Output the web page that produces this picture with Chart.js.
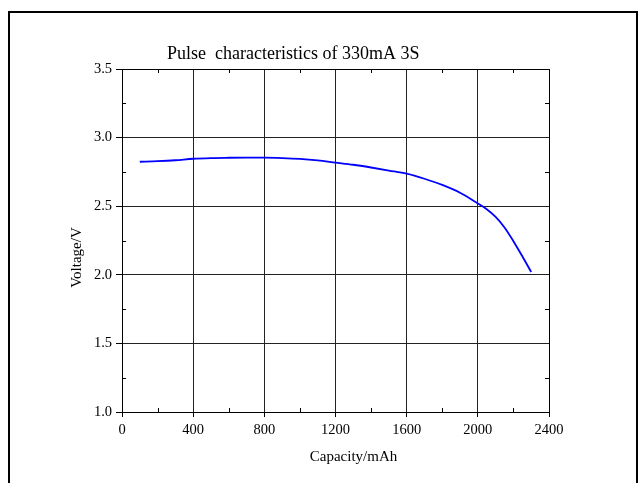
<!DOCTYPE html>
<html>
<head>
<meta charset="utf-8">
<script src="https://cdn.jsdelivr.net/npm/chart.js@4/dist/chart.umd.min.js"></script>
<style>
  html, body { margin: 0; padding: 0; background: #fff; }
  #wrap { width: 641px; height: 483px; }
</style>
</head>
<body>
<div id="wrap"><canvas id="myChart" width="641" height="483"></canvas></div>
<script>
// values
const capacity = [100, 200, 300, 400, 500, 600, 700, 800, 900, 1000, 1100, 1200, 1300, 1400, 1500, 1600, 1700, 1800, 1900, 2000, 2050, 2100, 2150, 2200, 2250, 2300];
const voltage = [2.824, 2.828, 2.835, 2.846, 2.851, 2.853, 2.854, 2.854, 2.851, 2.845, 2.834, 2.818, 2.802, 2.782, 2.760, 2.737, 2.700, 2.655, 2.598, 2.520, 2.478, 2.422, 2.345, 2.245, 2.135, 2.020];
const x_ticks = [0, 400, 800, 1200, 1600, 2000, 2400];
const y_ticks = [1.0, 1.5, 2.0, 2.5, 3.0, 3.5];
const title_text = 'Pulse  characteristics of 330mA 3S';
const x_title = 'Capacity/mAh';
const y_title = 'Voltage/V';

const serif = "'Liberation Serif', 'Times New Roman', serif";

// frame, plot box, minor ticks and texts
const decor = {
    id: 'decor',
    beforeDraw(chart) {
        const c = chart.ctx;
        c.save();
        c.fillStyle = '#fff';
        c.fillRect(0, 0, chart.width, chart.height);
        c.strokeStyle = '#000';
        c.lineWidth = 2;
        c.strokeRect(9, 12, 628, 520);
        c.restore();
    },
    afterDraw(chart) {
        const c = chart.ctx;
        const a = chart.chartArea;
        const xs = chart.scales.x, ys = chart.scales.y;
        c.save();
        c.strokeStyle = '#000';
        c.lineWidth = 1;
        c.strokeRect(Math.round(a.left) + 0.5, Math.round(a.top) + 0.5,
                     Math.round(a.right - a.left), Math.round(a.bottom - a.top));
        // minor ticks, pointing inside
        c.beginPath();
        for (let v = 200; v < 2400; v += 400) {
            const px = Math.round(xs.getPixelForValue(v)) + 0.5;
            c.moveTo(px, a.bottom); c.lineTo(px, a.bottom - 4);
            c.moveTo(px, a.top); c.lineTo(px, a.top + 4);
        }
        for (let v = 1.25; v < 3.5; v += 0.5) {
            const py = Math.round(ys.getPixelForValue(v)) + 0.5;
            c.moveTo(a.left, py); c.lineTo(a.left + 4, py);
            c.moveTo(a.right, py); c.lineTo(a.right - 4, py);
        }
        c.stroke();

        c.fillStyle = '#000';
        c.font = '18px ' + serif;
        c.textAlign = 'left';
        c.textBaseline = 'alphabetic';
        c.fillText(title_text, a.left + 45, a.top - 10);

        c.font = '15px ' + serif;
        c.textAlign = 'center';
        c.textBaseline = 'middle';
        c.fillText(x_title, (a.left + a.right) / 2 + 18, a.bottom + 45);

        c.translate(a.left - 45, (a.top + a.bottom) / 2 + 17);
        c.rotate(-Math.PI / 2);
        c.fillText(y_title, 0, 0);
        c.restore();
    }
};

const showChart = (canvas_id) => {
    const ctx = document.getElementById(canvas_id);
    const points = capacity.map((x, i) => ({ x: x, y: voltage[i] }));
    new Chart(ctx, {
        type: 'line',
        data: {
            datasets: [{
                label: title_text,
                data: points,
                borderColor: '#0000ff',
                borderWidth: 1.8,
                pointRadius: 0,
                cubicInterpolationMode: 'monotone',
                fill: false
            }]
        },
        options: {
            responsive: false,
            animation: false,
            layout: {
                padding: { left: 0, right: 92, top: 69, bottom: 21 }
            },
            scales: {
                x: {
                    type: 'linear',
                    min: 0,
                    max: 2400,
                    afterFit: (s) => { s.height = 50; },
                    afterBuildTicks: (s) => { s.ticks = x_ticks.map(v => ({ value: v })); },
                    grid: {
                        color: '#222',
                        lineWidth: 1,
                        drawTicks: true,
                        tickLength: 5,
                        tickColor: '#000'
                    },
                    border: { display: true, color: '#000', width: 1 },
                    ticks: {
                        color: '#000',
                        padding: 4,
                        maxRotation: 0,
                        font: { family: serif, size: 14.5 },
                        callback: (v) => String(v)
                    }
                },
                y: {
                    min: 1,
                    max: 3.5,
                    afterFit: (s) => { s.width = 122; },
                    afterBuildTicks: (s) => { s.ticks = y_ticks.map(v => ({ value: v })); },
                    grid: {
                        color: '#222',
                        lineWidth: 1,
                        drawTicks: true,
                        tickLength: 6,
                        tickColor: '#000'
                    },
                    border: { display: true, color: '#000', width: 1 },
                    ticks: {
                        color: '#000',
                        padding: 4,
                        font: { family: serif, size: 14.5 },
                        callback: (v) => Number(v).toFixed(1)
                    }
                }
            },
            plugins: {
                legend: { display: false },
                tooltip: { enabled: false },
                title: { display: false }
            }
        },
        plugins: [decor]
    });
}

showChart('myChart')
</script>
</body>
</html>
